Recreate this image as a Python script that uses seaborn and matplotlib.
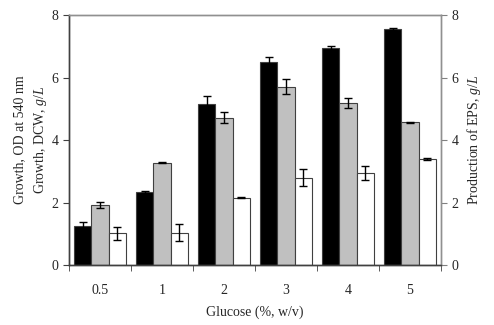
import numpy as np
import pandas as pd
import seaborn as sns
import matplotlib.pyplot as plt

glucose = ["0.5", "1", "2", "3", "4", "5"]
series = ["OD", "DCW", "EPS"]
od = [1.25, 2.33, 5.14, 6.50, 6.93, 7.54]
od_err = [0.12, 0.03, 0.28, 0.15, 0.08, 0.03]
dcw = [1.92, 3.27, 4.71, 5.71, 5.19, 4.57]
dcw_err = [0.11, 0.02, 0.18, 0.24, 0.16, 0.02]
eps = [1.01, 1.04, 2.16, 2.80, 2.94, 3.39]
eps_err = [0.20, 0.27, 0.02, 0.28, 0.23, 0.03]

df = pd.DataFrame({
    "glucose": glucose * 3,
    "series": [s for s in series for _ in glucose],
    "value": od + dcw + eps,
})
errs = [od_err, dcw_err, eps_err]

sns.set_style("ticks")
plt.rcParams["font.family"] = ["Liberation Serif", "DejaVu Serif"]
plt.rcParams["mathtext.fontset"] = "custom"
plt.rcParams["mathtext.rm"] = "Liberation Serif"
plt.rcParams["mathtext.it"] = "Liberation Serif:italic"

fig = plt.figure(figsize=(4.94, 3.25), dpi=100)
ax = fig.add_axes([0.1397, 0.1846, 0.753, 0.7692])

sns.barplot(data=df, x="glucose", y="value", hue="series", order=glucose,
            hue_order=series, palette=["black", "#c0c0c0", "white"],
            edgecolor="#404040", linewidth=0.8, width=0.84, errorbar=None,
            legend=False, ax=ax)

# error bars on top of each bar
for cont, e in zip(ax.containers, errs):
    xs = [p.get_x() + p.get_width() / 2 for p in cont]
    hs = [p.get_height() for p in cont]
    ax.errorbar(xs, hs, yerr=e, fmt="none", ecolor="black", elinewidth=1,
                capsize=3, capthick=1)

ax.set_xlim(-0.5, 5.5)
ax.set_ylim(0, 8)
ax.set_yticks([0, 2, 4, 6, 8])
ax.set_xticks(np.arange(-0.5, 6, 1), minor=True)
ax.tick_params(axis="x", which="major", length=0, pad=14, labelsize=10)
ax.tick_params(axis="x", which="minor", length=4, color="#404040")
ax.tick_params(axis="y", length=4, labelsize=10, color="#404040")
ax.set_xlabel("Glucose (%, w/v)", fontsize=10, labelpad=6)
ax.set_ylabel("Growth, OD at 540 nm\nGrowth, DCW, $\\mathit{g/L}$",
              fontsize=10, labelpad=2, linespacing=1.5)

ax2 = ax.twinx()
ax2.set_ylim(0, 8)
ax2.set_yticks([0, 2, 4, 6, 8])
ax2.tick_params(axis="y", length=4, labelsize=10, color="#808080")
ax2.set_ylabel("Production of EPS, $\\mathit{g/L}$", fontsize=10, labelpad=5)

for a in (ax, ax2):
    a.spines["top"].set_color("#909090")
    a.spines["right"].set_color("#909090")
    a.spines["left"].set_color("#404040")
    a.spines["bottom"].set_color("#404040")
    for s in a.spines.values():
        s.set_linewidth(1)

fig.savefig("out.png", dpi=100)
